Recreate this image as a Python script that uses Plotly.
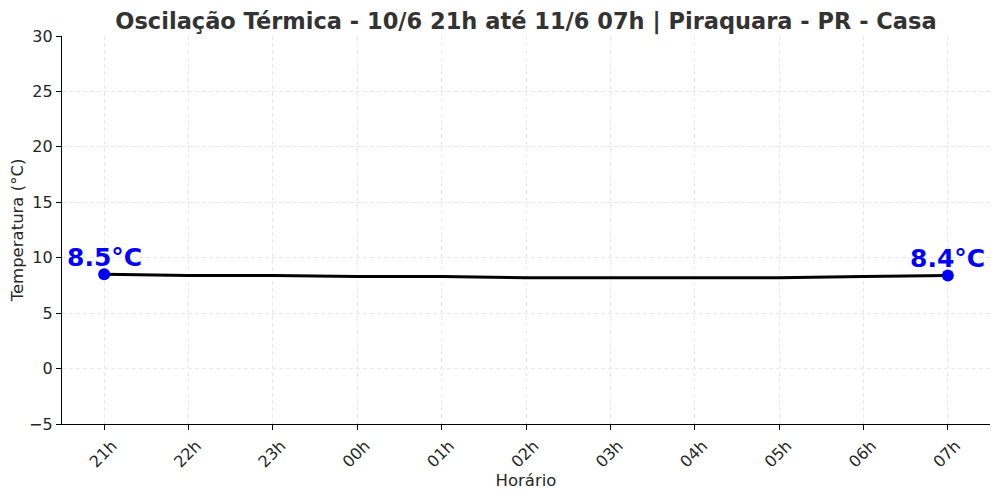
import plotly.graph_objects as go

# Horarios e temperaturas
horarios = ["21h", "22h", "23h", "00h", "01h", "02h", "03h", "04h", "05h", "06h", "07h"]
temperaturas = [8.5, 8.4, 8.4, 8.3, 8.3, 8.2, 8.2, 8.2, 8.2, 8.3, 8.4]

# pontos destacados (inicio e fim)
destaque_x = [horarios[0], horarios[-1]]
destaque_y = [temperaturas[0], temperaturas[-1]]
destaque_txt = ["8.5°C", "8.4°C"]

fig = go.Figure()

fig.add_trace(go.Scatter(x=horarios, y=temperaturas,
                         mode="lines",
                         line=dict(color="black", width=3),
                         showlegend=False))

fig.add_trace(go.Scatter(x=destaque_x, y=destaque_y,
                         mode="markers",
                         marker=dict(color="blue", size=12),
                         cliponaxis=False,
                         showlegend=False))

for hx, hy, txt in zip(destaque_x, destaque_y, destaque_txt):
    fig.add_annotation(x=hx, y=hy, text="<b>" + txt + "</b>",
                       showarrow=False, yshift=17, yanchor="middle",
                       font=dict(family="DejaVu Sans", size=25, color="blue"))

# a pagina tem margem de 8px no body, por isso as margens compensam
fig.update_layout(
    width=1000, height=496,
    margin=dict(l=54, r=18, t=28, b=80),
    plot_bgcolor="white", paper_bgcolor="white",
    font=dict(family="DejaVu Sans", size=16, color="#262626"),
    title=dict(text="<b>Oscilação Térmica - 10/6 21h até 11/6 07h | Piraquara - PR - Casa</b>",
               x=0.518, xanchor="center", y=0.974, yanchor="middle",
               font=dict(size=22.5, color="#333333")),
    xaxis=dict(title=dict(text="Horário", standoff=4,
                          font=dict(family="DejaVu Sans", size=16.5, color="#262626")),
               range=[-0.5, 10.5], tickangle=-45, automargin=False,
               ticklabelshift=8,
               showline=True, linecolor="black", linewidth=1.2,
               ticks="outside", ticklen=5, tickcolor="black",
               showgrid=True, gridcolor="#e8e8e8", griddash="4px,3px", gridwidth=1,
               zeroline=False),
    yaxis=dict(title=dict(text="Temperatura (°C)", standoff=4,
                          font=dict(family="DejaVu Sans", size=16.5, color="#262626")),
               range=[-5, 30], tickvals=[-5, 0, 5, 10, 15, 20, 25, 30],
               ticktext=["\u22125", "0", "5", "10", "15", "20", "25", "30"],
               automargin=False,
               showline=True, linecolor="black", linewidth=1.2,
               ticks="outside", ticklen=5, tickcolor="black",
               showgrid=True, gridcolor="#e8e8e8", griddash="4px,3px", gridwidth=1,
               zeroline=False),
)

fig.write_html("out.html")
